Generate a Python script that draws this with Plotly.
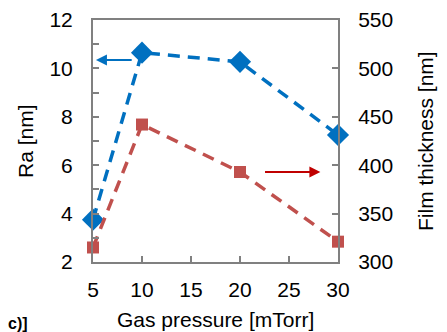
import plotly.graph_objects as go

pressure = [5, 10, 20, 30]
ra_nm = [3.75, 10.65, 10.27, 7.25]
thickness_nm = [315, 442, 393, 321]

blue = "#0070C0"
red = "#C0504D"
axis_grey = "#808080"
font_family = "Liberation Sans, Arial, sans-serif"

fig = go.Figure()
fig.add_trace(go.Scatter(
    x=pressure, y=ra_nm, mode="lines+markers",
    line=dict(color=blue, width=3.5, dash="12px,8px"),
    marker=dict(symbol="diamond", size=17, color=blue),
    showlegend=False, cliponaxis=False))
fig.add_trace(go.Scatter(
    x=pressure, y=thickness_nm, mode="lines+markers", yaxis="y2",
    line=dict(color=red, width=3.5, dash="12px,8px"),
    marker=dict(symbol="square", size=12, color=red),
    showlegend=False, cliponaxis=False))

# arrows
fig.add_annotation(x=5.3, y=10.35, ax=9.1, ay=10.35, xref="x", yref="y",
                   axref="x", ayref="y", showarrow=True, arrowhead=2,
                   arrowsize=1.1, arrowwidth=2, arrowcolor=blue, text="")
fig.add_annotation(x=28.2, y=393, ax=22.4, ay=393, xref="x", yref="y2",
                   axref="x", ayref="y2", showarrow=True, arrowhead=2,
                   arrowsize=1.1, arrowwidth=2, arrowcolor="#C00000", text="")

title_font = dict(family=font_family, size=21, color="black")
# axis titles as annotations
fig.add_annotation(x=0.5, y=0, xref="paper", yref="paper", text="Gas pressure [mTorr]",
                   showarrow=False, xanchor="center", yanchor="middle",
                   yshift=-57, font=title_font)
fig.add_annotation(x=0, y=0.5, xref="paper", yref="paper", text="Ra [nm]",
                   showarrow=False, xanchor="center", yanchor="middle", textangle=-90,
                   xshift=-68, font=title_font)
fig.add_annotation(x=1, y=0.5, xref="paper", yref="paper", text="Film thickness [nm]",
                   showarrow=False, xanchor="center", yanchor="middle", textangle=-90,
                   xshift=87, font=title_font)

fig.add_annotation(x=0, y=0, xref="paper", yref="paper", text="<b>c)]</b>",
                   showarrow=False, xanchor="left", yanchor="bottom",
                   xshift=-87, yshift=-72, font=dict(size=16, color="black"))

tickfont = dict(family=font_family, size=21, color="black")
# page body adds an 8px margin, so the figure is 8px smaller and offsets reduced
fig.update_layout(
    width=439, height=324,
    margin=dict(l=85, r=109, t=12, b=70),
    paper_bgcolor="white", plot_bgcolor="white",
    font=dict(family=font_family, color="black"),
    xaxis=dict(range=[5, 30], tickvals=[5, 10, 15, 20, 25, 30],
               ticks="inside", ticklen=6, tickwidth=2, tickcolor=axis_grey,
               showline=True, linecolor=axis_grey, linewidth=2, mirror=True,
               showgrid=False, zeroline=False, tickfont=tickfont,
               ticklabelstandoff=8, automargin=False),
    yaxis=dict(range=[2, 12], tickvals=[2, 4, 6, 8, 10, 12],
               ticks="inside", ticklen=6, tickwidth=2, tickcolor=axis_grey,
               minor=dict(dtick=1, ticks="inside", ticklen=6, tickwidth=2, tickcolor=axis_grey),
               showline=True, linecolor=axis_grey, linewidth=2,
               showgrid=False, zeroline=False, tickfont=tickfont,
               ticklabelstandoff=14, automargin=False),
    yaxis2=dict(range=[300, 550], tickvals=[300, 350, 400, 450, 500, 550],
                overlaying="y", side="right",
                ticks="inside", ticklen=6, tickwidth=2, tickcolor=axis_grey,
                showline=True, linecolor=axis_grey, linewidth=2,
                showgrid=False, zeroline=False, tickfont=tickfont,
                ticklabelstandoff=14, automargin=False),
)

fig.write_html("out.html")
